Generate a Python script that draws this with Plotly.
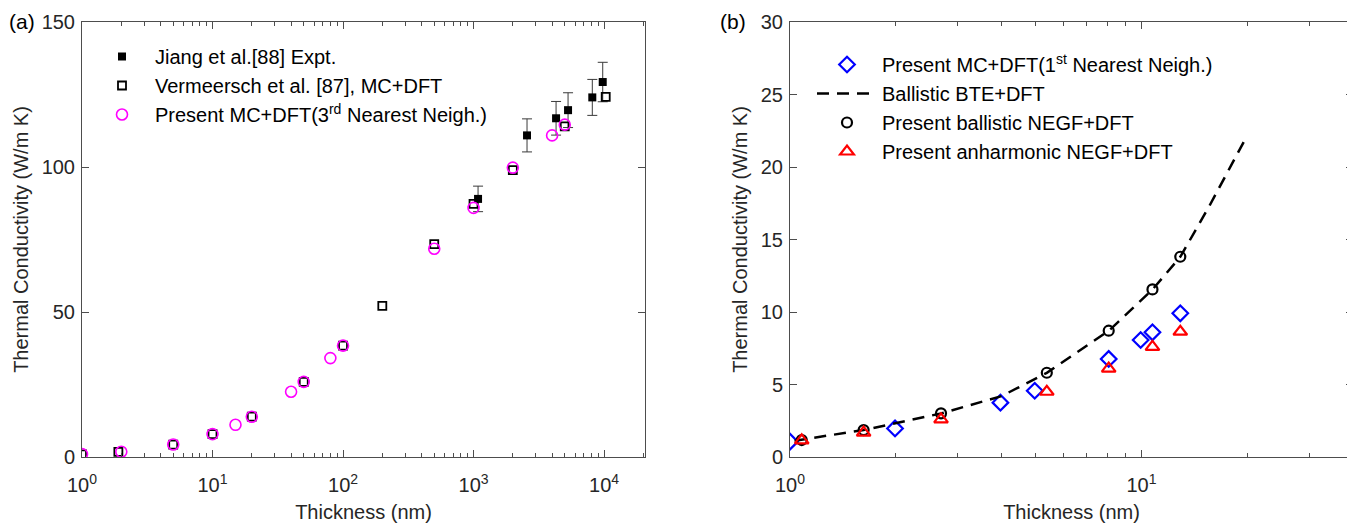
import plotly.graph_objects as go
import math

# ---------------- Panel (a) data ----------------
jiang_x = [1083, 2570, 4290, 5300, 8130, 9770]
jiang_y = [89.0, 110.9, 116.8, 119.6, 124.0, 129.3]
jiang_err = [4.4, 5.7, 5.8, 6.0, 6.2, 6.8]

verm_x = [1, 1.9, 5, 10, 20, 50, 100, 200, 500, 1000, 2000, 5000, 10300]
verm_y = [0.9, 1.8, 4.3, 7.9, 13.9, 25.9, 38.4, 52.1, 73.4, 87.3, 98.9, 114.0, 124.2]

mc3_x = [1, 2, 5, 10, 15, 20, 40, 50, 80, 100, 500, 1000, 2000, 4000, 5000]
mc3_y = [1.0, 1.8, 4.3, 7.9, 11.1, 13.9, 22.5, 25.9, 34.1, 38.4, 71.8, 85.9, 99.8, 110.9, 114.6]

# ---------------- Panel (b) data ----------------
mc1_x = [1.0, 1.99, 3.97, 4.97, 8.07, 9.95, 10.75, 12.9]
mc1_y = [1.06, 1.97, 3.75, 4.57, 6.76, 8.07, 8.6, 9.91]

bte_x = [1.03, 1.62, 2.69, 4.0, 5.38, 8.07, 10.75, 12.9, 15.6, 19.75]
bte_y = [1.12, 1.86, 3.0, 4.2, 5.8, 8.7, 11.55, 13.8, 17.3, 21.93]

negf_x = [1.08, 1.62, 2.69, 5.38, 8.07, 10.75, 12.9]
negf_y = [1.17, 1.86, 3.01, 5.81, 8.71, 11.56, 13.81]

anh_x = [1.08, 1.62, 2.69, 5.38, 8.07, 10.75, 12.9]
anh_y = [1.15, 1.68, 2.6, 4.5, 6.1, 7.6, 8.64]

# tick labels
a_xticks = [1, 10, 100, 1000, 10000]
a_xticktext = ["10<sup>0</sup>", "10<sup>1</sup>", "10<sup>2</sup>", "10<sup>3</sup>", "10<sup>4</sup>"]
a_yticks = [0, 50, 100, 150]
b_xticks = [1, 10]
b_xticktext = ["10<sup>0</sup>", "10<sup>1</sup>"]
b_yticks = [0, 5, 10, 15, 20, 25, 30]

W, H = 1355, 523
OFF = 8  # page body margin offset
FONT = "Liberation Sans, Arial, Helvetica, sans-serif"
AX = "#4d4d4d"
TXT = "#262626"


def px(x):
    return (x - OFF) / W


def py(y):
    return 1 - (y - OFF) / H


fig = go.Figure()

fig.add_trace(go.Scatter(
    x=jiang_x, y=jiang_y, mode="markers", name="Jiang et al.[88] Expt.",
    marker=dict(symbol="square", size=8, color="black"),
    error_y=dict(type="data", array=jiang_err, color="#3a3a3a", thickness=1, width=5),
    xaxis="x", yaxis="y", legend="legend"))
fig.add_trace(go.Scatter(
    x=verm_x, y=verm_y, mode="markers", name="Vermeersch et al. [87], MC+DFT",
    marker=dict(symbol="square-open", size=8, color="black", line=dict(width=1.8)),
    xaxis="x", yaxis="y", legend="legend"))
fig.add_trace(go.Scatter(
    x=mc3_x, y=mc3_y, mode="markers", name="Present MC+DFT(3<sup>rd</sup> Nearest Neigh.)",
    marker=dict(symbol="circle-open", size=11, color="#ff00ff", line=dict(width=1.6)),
    xaxis="x", yaxis="y", legend="legend"))

fig.add_trace(go.Scatter(
    x=mc1_x, y=mc1_y, mode="markers", name="Present MC+DFT(1<sup>st</sup> Nearest Neigh.)",
    marker=dict(symbol="diamond-open", size=12, color="#0000ff", line=dict(width=2.2)),
    xaxis="x2", yaxis="y2", legend="legend2"))
fig.add_trace(go.Scatter(
    x=bte_x, y=bte_y, mode="lines", name="Ballistic BTE+DFT",
    line=dict(color="black", width=2.5, dash="12px,8px"),
    xaxis="x2", yaxis="y2", legend="legend2"))
fig.add_trace(go.Scatter(
    x=negf_x, y=negf_y, mode="markers", name="Present ballistic NEGF+DFT",
    marker=dict(symbol="circle-open", size=10, color="black", line=dict(width=2.2)),
    xaxis="x2", yaxis="y2", legend="legend2"))
fig.add_trace(go.Scatter(
    x=anh_x, y=anh_y, mode="markers", name="Present anharmonic NEGF+DFT",
    marker=dict(symbol="triangle-up-open", size=12, color="#ff0000", line=dict(width=2.2)),
    xaxis="x2", yaxis="y2", legend="legend2"))

ydom = [py(457), py(22)]
common_axis = dict(showline=True, linecolor=AX, linewidth=1, mirror="allticks",
                   ticks="inside", ticklen=7, tickwidth=1, tickcolor=AX,
                   showgrid=False, zeroline=False, automargin=False,
                   tickfont=dict(family=FONT, size=20, color=TXT))


def minor_log(lo, hi):
    vals = []
    for d in range(lo, hi):
        for m in range(2, 10):
            vals.append(m * 10 ** d)
    return vals


title_font = dict(family=FONT, size=20, color=TXT)

fig.update_layout(
    width=W, height=H, margin=dict(l=0, r=0, t=0, b=0, autoexpand=False),
    paper_bgcolor="white", plot_bgcolor="white",
    font=dict(family=FONT, size=20, color=TXT),
    showlegend=True,
    xaxis=dict(common_axis, type="log", domain=[px(82), px(645)], range=[0, math.log10(20600)],
               tickmode="array", tickvals=a_xticks, ticktext=a_xticktext, anchor="y",
               ticklabelstandoff=10,
               minor=dict(tickmode="array", tickvals=minor_log(0, 5), ticks="inside", ticklen=4,
                          tickcolor=AX, showgrid=False),
               title=dict(text="Thickness (nm)", font=title_font, standoff=9)),
    yaxis=dict(common_axis, domain=ydom, range=[0, 150], tickmode="array", tickvals=a_yticks,
               anchor="x", ticklabelstandoff=2,
               title=dict(text="Thermal Conductivity (W/m K)", font=title_font, standoff=7)),
    xaxis2=dict(common_axis, type="log", domain=[px(790), px(1353)], range=[0, math.log10(40)],
                tickmode="array", tickvals=b_xticks, ticktext=b_xticktext, anchor="y2",
                ticklabelstandoff=10,
                minor=dict(tickmode="array", tickvals=[2, 3, 4, 5, 6, 7, 8, 9, 20, 30], ticks="inside",
                           ticklen=4, tickcolor=AX, showgrid=False),
                title=dict(text="Thickness (nm)", font=title_font, standoff=9)),
    yaxis2=dict(common_axis, domain=ydom, range=[0, 30], tickmode="array", tickvals=b_yticks,
                anchor="x2", ticklabelstandoff=2,
                title=dict(text="Thermal Conductivity (W/m K)", font=title_font, standoff=7)),
    legend=dict(x=px(89), y=py(37), xanchor="left", yanchor="top", bgcolor="rgba(0,0,0,0)",
                borderwidth=0, itemwidth=56, font=dict(family=FONT, size=20, color="black"),
                tracegroupgap=0, itemclick=False),
    legend2=dict(x=px(812), y=py(45), xanchor="left", yanchor="top", bgcolor="rgba(0,0,0,0)",
                 borderwidth=0, itemwidth=60, font=dict(family=FONT, size=20, color="black"),
                 tracegroupgap=0, itemclick=False),
    annotations=[
        dict(text="(a)", x=px(7), y=py(22), xref="paper", yref="paper", xanchor="left",
             yanchor="middle", showarrow=False, font=dict(family=FONT, size=21, color="black")),
        dict(text="(b)", x=px(718), y=py(22), xref="paper", yref="paper", xanchor="left",
             yanchor="middle", showarrow=False, font=dict(family=FONT, size=21, color="black")),
    ],
)

fig.write_html("out.html")
